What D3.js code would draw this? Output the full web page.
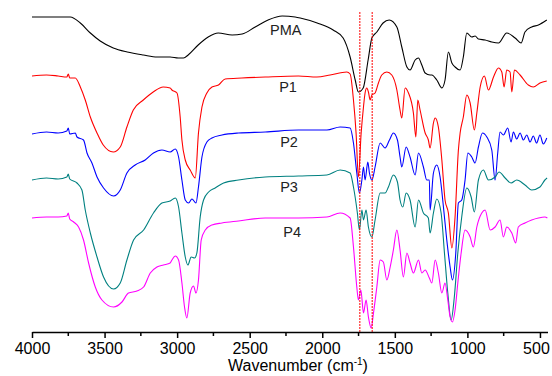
<!DOCTYPE html>
<html>
<head>
<meta charset="utf-8">
<script src="https://cdn.jsdelivr.net/npm/d3@7"></script>
<style>
  html, body { margin: 0; padding: 0; background: #fff; }
  svg { display: block; font-family: "Liberation Sans", Arial, sans-serif; }
</style>
</head>
<body>
<svg id="chart" width="552" height="376"></svg>
<script>
// wavenumber (cm-1) / relative transmittance (a.u., offset per sample)
const pmaWn = [4000, 3736, 3667, 3598, 3530, 3440, 3344, 3233, 3137, 3048, 2992, 2956, 2924, 2855, 2786, 2717, 2621, 2552, 2462, 2373, 2276, 2187, 2152, 2035, 1925, 1856, 1808, 1773, 1751, 1718, 1684, 1658, 1624, 1581, 1539, 1486, 1452, 1417, 1395, 1360, 1337, 1314, 1291, 1257, 1245, 1211, 1176, 1154, 1131, 1107, 1085, 1050, 1028, 1004, 970, 947, 924, 878, 832, 786, 729, 671, 630, 603, 557, 511, 453];
const pmaT = [315, 315, 309, 299, 291, 284, 280, 277, 275, 275, 274, 274, 277, 287, 295, 299, 297, 298, 305, 312, 316, 315, 314, 309, 302, 294, 275, 252, 240, 244, 272, 294, 300, 309, 312, 305, 285, 265, 262, 272, 274, 267, 259, 257, 257, 252, 244, 252, 280, 269, 265, 262, 275, 299, 295, 296, 293, 292, 290, 289, 299, 294, 289, 300, 305, 307, 312];

const p1Wn = [4000, 3900, 3820, 3760, 3750, 3740, 3702, 3667, 3633, 3598, 3552, 3509, 3440, 3392, 3346, 3302, 3233, 3165, 3096, 3048, 3036, 3001, 2979, 2967, 2944, 2910, 2875, 2853, 2829, 2795, 2760, 2715, 2669, 2554, 2393, 2164, 2037, 1946, 1831, 1808, 1785, 1767, 1751, 1732, 1716, 1705, 1693, 1682, 1670, 1658, 1636, 1613, 1590, 1555, 1521, 1486, 1464, 1452, 1429, 1406, 1372, 1355, 1342, 1326, 1291, 1269, 1257, 1234, 1222, 1200, 1176, 1154, 1131, 1107, 1085, 1062, 1050, 1028, 1004, 981, 952, 935, 912, 883, 855, 820, 786, 763, 747, 729, 706, 694, 676, 637, 580, 546, 500, 453];
const p1T = [256, 257, 256, 255, 258, 254, 254, 245, 232, 215, 199, 187, 180, 185, 205, 222, 232, 240, 245, 244, 242, 239, 215, 192, 172, 162, 154, 199, 225, 239, 245, 247, 253, 254, 255, 256, 255, 257, 260, 258, 232, 199, 155, 199, 225, 239, 244, 240, 232, 237, 239, 249, 257, 260, 257, 242, 222, 214, 244, 239, 219, 195, 232, 222, 199, 192, 184, 209, 214, 205, 172, 132, 119, 84, 115, 182, 199, 215, 237, 229, 202, 219, 245, 256, 242, 255, 264, 260, 245, 262, 260, 240, 262, 257, 247, 245, 249, 251];

const p2Wn = [4000, 3900, 3820, 3760, 3750, 3740, 3702, 3690, 3645, 3621, 3587, 3552, 3507, 3438, 3392, 3346, 3289, 3220, 3163, 3105, 3048, 3013, 2990, 2967, 2944, 2921, 2898, 2870, 2853, 2829, 2795, 2760, 2691, 2577, 2393, 2164, 1968, 1877, 1808, 1785, 1762, 1744, 1727, 1716, 1705, 1686, 1675, 1658, 1636, 1601, 1567, 1537, 1510, 1482, 1464, 1452, 1422, 1395, 1360, 1337, 1303, 1280, 1262, 1257, 1234, 1211, 1188, 1165, 1142, 1119, 1103, 1080, 1062, 1039, 1016, 997, 970, 947, 924, 896, 866, 832, 809, 791, 775, 752, 722, 699, 683, 660, 637, 614, 591, 568, 546, 523, 500, 477, 453];
const p2T = [198, 200, 199, 201, 204, 198, 199, 195, 192, 179, 169, 155, 144, 136, 142, 159, 167, 172, 179, 182, 180, 183, 175, 152, 132, 129, 133, 129, 145, 175, 190, 194, 197, 199, 200, 202, 202, 205, 204, 189, 159, 139, 152, 165, 152, 170, 159, 152, 165, 189, 184, 192, 199, 192, 175, 165, 185, 175, 157, 179, 165, 152, 152, 122, 159, 167, 155, 125, 92, 65, 52, 79, 129, 132, 152, 179, 175, 169, 185, 199, 195, 182, 152, 179, 200, 197, 204, 190, 200, 193, 199, 192, 197, 190, 196, 189, 197, 188, 194];

const p3Wn = [4000, 3900, 3820, 3760, 3750, 3740, 3690, 3656, 3633, 3598, 3552, 3507, 3438, 3392, 3346, 3300, 3231, 3163, 3105, 3048, 3013, 2990, 2967, 2944, 2926, 2903, 2880, 2864, 2841, 2818, 2783, 2738, 2680, 2577, 2393, 2164, 1968, 1877, 1808, 1785, 1758, 1744, 1727, 1716, 1698, 1682, 1658, 1636, 1601, 1567, 1544, 1510, 1482, 1464, 1445, 1422, 1395, 1360, 1337, 1303, 1269, 1257, 1234, 1211, 1181, 1158, 1135, 1112, 1090, 1066, 1039, 1004, 974, 952, 924, 890, 855, 809, 782, 740, 699, 660, 603, 557, 500, 466, 451];
const p3T = [152, 154, 153, 155, 158, 153, 149, 142, 122, 99, 75, 55, 43, 49, 72, 92, 102, 119, 129, 131, 134, 125, 99, 75, 67, 75, 74, 79, 115, 132, 140, 144, 149, 152, 155, 156, 157, 162, 159, 145, 119, 102, 122, 112, 122, 105, 95, 112, 139, 139, 145, 157, 150, 132, 125, 139, 132, 105, 132, 119, 114, 99, 119, 133, 119, 79, 39, 12, 35, 79, 115, 144, 135, 120, 152, 162, 152, 155, 160, 154, 149, 152, 147, 142, 145, 152, 154];

const p4Wn = [4000, 3900, 3820, 3760, 3750, 3740, 3713, 3679, 3645, 3610, 3564, 3518, 3438, 3380, 3335, 3277, 3231, 3185, 3139, 3094, 3048, 3036, 3013, 2990, 2967, 2949, 2933, 2910, 2887, 2870, 2853, 2834, 2806, 2760, 2691, 2577, 2393, 2164, 1968, 1877, 1808, 1785, 1762, 1751, 1734, 1716, 1698, 1682, 1663, 1647, 1624, 1601, 1579, 1555, 1532, 1510, 1486, 1464, 1441, 1417, 1395, 1372, 1337, 1314, 1291, 1262, 1245, 1222, 1200, 1176, 1154, 1135, 1119, 1103, 1085, 1066, 1043, 1016, 981, 959, 935, 901, 878, 843, 809, 775, 752, 729, 694, 667, 649, 603, 557, 511, 466, 449];
const p4T = [114, 115, 115, 116, 119, 113, 110, 105, 92, 69, 45, 32, 25, 30, 39, 41, 45, 59, 65, 67, 69, 72, 76, 72, 49, 25, 14, 39, 46, 39, 52, 92, 102, 107, 109, 111, 114, 114, 115, 119, 114, 85, 45, 32, 42, 19, 32, 15, 4, 19, 45, 72, 70, 52, 65, 82, 102, 82, 55, 79, 69, 59, 72, 59, 62, 54, 49, 72, 59, 39, 49, 32, 15, 10, 22, 49, 79, 102, 95, 85, 105, 119, 122, 102, 105, 112, 95, 105, 99, 89, 105, 109, 112, 114, 115, 114];

const seriesNames = ["PMA", "P1", "P2", "P3", "P4"];
const seriesColors = ["#000000", "#ff0000", "#0000ff", "#008080", "#ff00ff"];
const labelWn = [2360, 2297, 2290, 2290, 2269];
const labelT = [297, 240, 185, 140, 95];

const markerWn = [1741, 1656];
const tickValues = [4000, 3500, 3000, 2500, 2000, 1500, 1000, 500];
const minorTicks = [3750, 3250, 2750, 2250, 1750, 1250, 750];

const svg = d3.select("#chart");
const x = d3.scaleLinear().domain([4000, 448]).range([32, 547.5]);
const y = d3.scaleLinear().domain([0, 322]).range([332, 10]);

const wnSets = [pmaWn, p1Wn, p2Wn, p3Wn, p4Wn];
const tSets = [pmaT, p1T, p2T, p3T, p4T];

const line = d3.line()
  .x(d => x(d[0]))
  .y(d => y(d[1]))
  .curve(d3.curveMonotoneX);

wnSets.forEach((wn, i) => {
  const pts = wn.map((w, j) => [w, tSets[i][j]]);
  svg.append("path")
    .attr("d", line(pts))
    .attr("fill", "none")
    .attr("stroke", seriesColors[i])
    .attr("stroke-width", 1.1)
    .attr("stroke-linejoin", "round");
});

// marker lines
svg.selectAll(".marker")
  .data(markerWn)
  .enter()
  .append("line")
  .attr("x1", d => x(d)).attr("x2", d => x(d))
  .attr("y1", y(320)).attr("y2", y(0))
  .attr("stroke", "#ff0000")
  .attr("stroke-width", 1)
  .attr("stroke-dasharray", "2,1");

// series labels
svg.selectAll(".lbl")
  .data(seriesNames)
  .enter()
  .append("text")
  .attr("x", (d, i) => x(labelWn[i]))
  .attr("y", (d, i) => y(labelT[i]))
  .attr("font-size", "14.5px")
  .attr("fill", "#222")
  .text(d => d);

// bottom axis
const axis = d3.axisBottom(x)
  .tickValues(tickValues)
  .tickSize(6)
  .tickSizeOuter(0)
  .tickPadding(5)
  .tickFormat(d3.format("d"));

const gx = svg.append("g")
  .attr("transform", `translate(0,${y(0)})`)
  .call(axis);
gx.select(".domain").attr("stroke", "#000").attr("stroke-width", 1.5);
gx.selectAll(".tick line").attr("stroke-width", 1.5);
gx.selectAll(".tick text")
  .attr("font-size", "16px")
  .attr("font-family", "Liberation Sans, Arial, sans-serif")
  .attr("fill", "#000")
  .attr("dx", d => d === 500 ? -4 : 0);

gx.selectAll(".minor")
  .data(minorTicks)
  .enter()
  .append("line")
  .attr("x1", d => x(d)).attr("x2", d => x(d))
  .attr("y1", 0).attr("y2", 4)
  .attr("stroke", "#000")
  .attr("stroke-width", 1.5);

const title = svg.append("text")
  .attr("x", 298)
  .attr("y", 371)
  .attr("text-anchor", "middle")
  .attr("font-size", "16px")
  .attr("fill", "#000");
title.append("tspan").text("Wavenumber (cm");
title.append("tspan").attr("font-size", "10px").attr("dy", -6).text("-1");
title.append("tspan").attr("dy", 6).text(")");
</script>
</body>
</html>
